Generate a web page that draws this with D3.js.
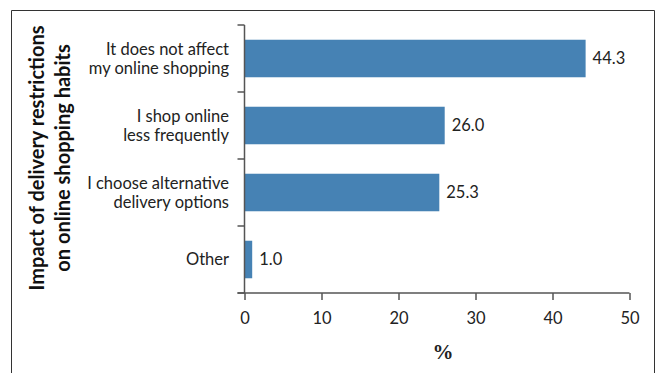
<!DOCTYPE html>
<html>
<head>
<meta charset="utf-8">
<script src="https://cdn.jsdelivr.net/npm/d3@7"></script>
<style>
  html, body { margin: 0; padding: 0; background: #fff; }
  svg { display: block; }
</style>
</head>
<body>
<svg id="chart" width="657" height="373"></svg>
<script>
// Survey answers: impact of delivery restrictions on online shopping habits
const categories = [
  ["It does not affect", "my online shopping"],
  ["I shop online", "less frequently"],
  ["I choose alternative", "delivery options"],
  ["Other"]
];
const values = [44.3, 26.0, 25.3, 1.0];
const xTicks = [0, 10, 20, 30, 40, 50];
const yTitle = ["Impact of delivery restrictions", "on online shopping habits"];
const xTitle = "%";

const svg = d3.select("#chart");
const font = "Lato, 'Open Sans', sans-serif";
const axisColor = "#555";
const textSize = 16.5;

// outer frame (open at the bottom)
svg.append("path")
  .attr("d", "M11.5,373 V10.5 H654.5 V373")
  .attr("fill", "none")
  .attr("stroke", "#333")
  .attr("stroke-width", 1);

const plot = { left: 244.5, right: 629.5, top: 25, bottom: 293 };

const x = d3.scaleLinear().domain([0, 50]).range([plot.left, plot.right]);
const idx = d3.range(categories.length);
const y = d3.scaleBand().domain(idx).range([plot.top, plot.bottom]).paddingInner(0.44).paddingOuter(0.22);
const yEdges = d3.scaleBand().domain(idx).range([plot.top, plot.bottom]);

// bars
svg.append("g").selectAll("rect")
  .data(values)
  .join("rect")
  .attr("x", x(0))
  .attr("y", (d, i) => y(i))
  .attr("width", d => x(d) - x(0))
  .attr("height", y.bandwidth())
  .attr("fill", "#4682b4");

// value labels
svg.append("g").selectAll("text")
  .data(values)
  .join("text")
  .attr("x", d => x(d) + 7)
  .attr("y", (d, i) => y(i) + y.bandwidth() / 2)
  .attr("dy", "0.35em")
  .attr("font-family", font)
  .attr("font-size", textSize)
  .attr("fill", "#222")
  .text(d => d.toFixed(1));

// y axis: line plus ticks at category boundaries
const yAxis = svg.append("g");
yAxis.append("line")
  .attr("x1", plot.left).attr("x2", plot.left)
  .attr("y1", plot.top).attr("y2", plot.bottom)
  .attr("stroke", axisColor).attr("stroke-width", 1.5);
const boundaries = idx.map(i => yEdges(i)).concat([plot.bottom]);
yAxis.selectAll("line.tick")
  .data(boundaries)
  .join("line")
  .attr("class", "tick")
  .attr("x1", plot.left - 7).attr("x2", plot.left)
  .attr("y1", d => d).attr("y2", d => d)
  .attr("stroke", axisColor).attr("stroke-width", 1.5);

// category labels
const catG = svg.append("g");
categories.forEach((lines, i) => {
  const cy = yEdges(i) + yEdges.bandwidth() / 2;
  const lh = 18.5;
  const t = catG.append("text")
    .attr("text-anchor", "end")
    .attr("font-family", font)
    .attr("font-size", textSize)
    .attr("fill", "#222");
  lines.forEach((ln, k) => {
    t.append("tspan")
      .attr("x", 229)
      .attr("y", cy + (k - (lines.length - 1) / 2) * lh)
      .attr("dy", "0.35em")
      .text(ln);
  });
});

// x axis
const xAxis = svg.append("g")
  .attr("transform", `translate(0,${plot.bottom})`)
  .call(d3.axisBottom(x).tickValues(xTicks).tickSize(7).tickPadding(12).tickFormat(d3.format("d")));
xAxis.select(".domain").remove();
xAxis.append("line")
  .attr("x1", plot.left - 7).attr("x2", plot.right)
  .attr("stroke", axisColor).attr("stroke-width", 1.5);
xAxis.selectAll(".tick line").attr("stroke", axisColor).attr("stroke-width", 1.5);
xAxis.selectAll(".tick text")
  .attr("font-family", font)
  .attr("font-size", textSize)
  .attr("fill", "#222");

// axis titles
svg.append("text")
  .attr("x", 443)
  .attr("y", 352)
  .attr("dy", "0.35em")
  .attr("text-anchor", "middle")
  .attr("font-family", "'Liberation Serif', serif")
  .attr("font-weight", "bold")
  .attr("font-size", 21)
  .attr("fill", "#222")
  .text(xTitle);

const yt = svg.append("text")
  .attr("transform", "translate(50,158) rotate(-90)")
  .attr("text-anchor", "middle")
  .attr("font-family", font)
  .attr("font-weight", "bold")
  .attr("font-size", 20)
  .attr("fill", "#111");
yTitle.forEach((ln, k) => {
  yt.append("tspan")
    .attr("x", 0)
    .attr("y", (k - 0.5) * 26)
    .attr("dy", "0.35em")
    .text(ln);
});
</script>
</body>
</html>
